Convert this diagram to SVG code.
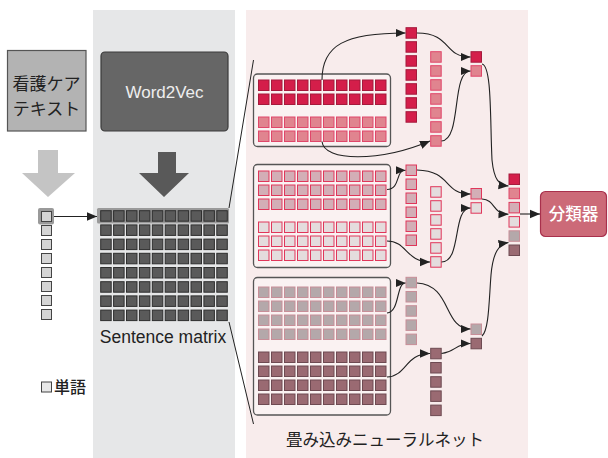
<svg xmlns="http://www.w3.org/2000/svg" xmlns:xlink="http://www.w3.org/1999/xlink" width="608" height="458" viewBox="0 0 608 458">
<style>
.jp{font-family:"Liberation Sans","Noto Sans CJK JP",sans-serif;}
.lat{font-family:"Liberation Sans",Arial,sans-serif;}
.cr{fill:#d41e4a;stroke:#a51a3c;stroke-width:1}
.lp{fill:#e0848f;stroke:#e0466a;stroke-width:1}
.dp{fill:#d3aeb6;stroke:#e0365a;stroke-width:1}
.lt{fill:#e4dcdd;stroke:#e0365a;stroke-width:1}
.gy{fill:#b4a8aa;stroke:#c88e98;stroke-width:1}
.mv{fill:#9a6a72;stroke:#6e4a52;stroke-width:1}
.mx{fill:#5a5a5a;stroke:#2e2e2e;stroke-width:1}
.wd{fill:#d4d4d4;stroke:#444;stroke-width:1}
.box{fill:#faf2f2;stroke:#555;stroke-width:1.3}
.con{fill:none;stroke:#222;stroke-width:1.1}
.ln{fill:none;stroke:#222;stroke-width:1}
</style>
<defs>
<marker id="ah" markerUnits="userSpaceOnUse" markerWidth="10" markerHeight="10" viewBox="0 0 10 10" refX="10" refY="5" orient="auto">
<path d="M0,0.8 L10,5 L0,9.2 Z" fill="#222"/>
</marker>
<g id="row10">
<rect x="0" y="0" width="10.5" height="10.5"/><rect x="13" y="0" width="10.5" height="10.5"/><rect x="26" y="0" width="10.5" height="10.5"/><rect x="39" y="0" width="10.5" height="10.5"/><rect x="52" y="0" width="10.5" height="10.5"/><rect x="65" y="0" width="10.5" height="10.5"/><rect x="78" y="0" width="10.5" height="10.5"/><rect x="91" y="0" width="10.5" height="10.5"/><rect x="104" y="0" width="10.5" height="10.5"/><rect x="117" y="0" width="10.5" height="10.5"/>
</g>
<g id="rowM">
<rect x="0" y="0" width="10.5" height="10.5"/><rect x="12.9" y="0" width="10.5" height="10.5"/><rect x="25.8" y="0" width="10.5" height="10.5"/><rect x="38.7" y="0" width="10.5" height="10.5"/><rect x="51.6" y="0" width="10.5" height="10.5"/><rect x="64.5" y="0" width="10.5" height="10.5"/><rect x="77.4" y="0" width="10.5" height="10.5"/><rect x="90.3" y="0" width="10.5" height="10.5"/><rect x="103.2" y="0" width="10.5" height="10.5"/><rect x="116.1" y="0" width="10.5" height="10.5"/>
</g>
</defs>

<rect width="608" height="458" fill="#ffffff"/>
<rect id="panel-w2v" x="93" y="10" width="142" height="448" fill="#e6e7e8"/>
<rect id="panel-cnn" x="246" y="10" width="282" height="448" fill="#f8ecec"/>

<g id="text-box">
<rect x="7.5" y="50.5" width="78.5" height="80.5" fill="#b3b3b3" stroke="#555" stroke-width="1.2"/>
<text class="jp" x="46.5" y="90" font-size="17" text-anchor="middle" fill="#222">看護ケア</text>
<text class="jp" x="46.5" y="115" font-size="17" text-anchor="middle" fill="#222">テキスト</text>
</g>
<g id="arrow-light">
<path d="M38,150 H58 V173 H75 L48,197 L22,173 H38 Z" fill="#c4c4c4"/>
</g>

<g id="words">
<rect x="38" y="208" width="16" height="16.5" rx="2" fill="#9a9a9a"/>
<rect class="wd" x="41.5" y="211.5" width="10" height="10"/>
<rect class="wd" x="41.5" y="225.5" width="10" height="10"/>
<rect class="wd" x="41.5" y="239.5" width="10" height="10"/>
<rect class="wd" x="41.5" y="253.5" width="10" height="10"/>
<rect class="wd" x="41.5" y="267.5" width="10" height="10"/>
<rect class="wd" x="41.5" y="281.5" width="10" height="10"/>
<rect class="wd" x="41.5" y="295.5" width="10" height="10"/>
<rect class="wd" x="41.5" y="309.5" width="10" height="10"/>
</g>

<g id="legend">
<rect class="wd" x="41.5" y="382" width="10" height="10" style="fill:#e8e8e8"/>
<text class="jp" x="54" y="393" font-size="16" font-weight="500" fill="#222">単語</text>
</g>

<g id="word2vec">
<rect x="101" y="52" width="127" height="79" rx="4" fill="#666" stroke="#3a3a3a" stroke-width="1.2"/>
<text class="lat" x="164.5" y="98" font-size="17" text-anchor="middle" fill="#eeeeee">Word2Vec</text>
</g>
<g id="arrow-dark">
<path d="M158,152 H176 V173 H189 L164,197 L139,173 H158 Z" fill="#595959"/>
</g>

<g id="sentence-matrix">
<rect x="97" y="208" width="132" height="15.5" rx="1.5" fill="#9a9a9a"/>
<use href="#rowM" class="mx" x="100.7" y="210.7"/>
<use href="#rowM" class="mx" x="100.7" y="224.9"/>
<use href="#rowM" class="mx" x="100.7" y="239.1"/>
<use href="#rowM" class="mx" x="100.7" y="253.3"/>
<use href="#rowM" class="mx" x="100.7" y="267.5"/>
<use href="#rowM" class="mx" x="100.7" y="281.7"/>
<use href="#rowM" class="mx" x="100.7" y="295.9"/>
<use href="#rowM" class="mx" x="100.7" y="310.1"/>
<text class="lat" x="163" y="343" font-size="17.5" text-anchor="middle" fill="#222">Sentence matrix</text>
</g>

<g id="conv1">
<rect class="box" x="253.5" y="74" width="137" height="72.5" rx="4"/>
<use href="#row10" class="cr" x="258.5" y="80"/>
<use href="#row10" class="cr" x="258.5" y="94"/>
<use href="#row10" class="lp" x="258.5" y="117"/>
<use href="#row10" class="lp" x="258.5" y="131"/>
</g>
<g id="conv2">
<rect class="box" x="253.5" y="164.5" width="137" height="103" rx="4"/>
<use href="#row10" class="dp" x="258.5" y="171"/>
<use href="#row10" class="dp" x="258.5" y="185"/>
<use href="#row10" class="dp" x="258.5" y="199"/>
<use href="#row10" class="lt" x="258.5" y="222"/>
<use href="#row10" class="lt" x="258.5" y="236"/>
<use href="#row10" class="lt" x="258.5" y="250"/>
</g>
<g id="conv3">
<rect class="box" x="253.5" y="277.5" width="137" height="137.5" rx="4"/>
<use href="#row10" class="gy" x="258.5" y="287"/>
<use href="#row10" class="gy" x="258.5" y="301"/>
<use href="#row10" class="gy" x="258.5" y="315"/>
<use href="#row10" class="gy" x="258.5" y="329"/>
<use href="#row10" class="mv" x="258.5" y="352"/>
<use href="#row10" class="mv" x="258.5" y="366"/>
<use href="#row10" class="mv" x="258.5" y="380"/>
<use href="#row10" class="mv" x="258.5" y="394"/>
</g>

<g id="map-a">
<rect class="cr" x="406" y="27.7" width="10.5" height="10.5"/>
<rect class="cr" x="406" y="41.7" width="10.5" height="10.5"/>
<rect class="cr" x="406" y="55.7" width="10.5" height="10.5"/>
<rect class="cr" x="406" y="69.7" width="10.5" height="10.5"/>
<rect class="cr" x="406" y="83.7" width="10.5" height="10.5"/>
<rect class="cr" x="406" y="97.7" width="10.5" height="10.5"/>
<rect class="cr" x="406" y="111.7" width="10.5" height="10.5"/>
</g>
<g id="map-b">
<rect class="lp" x="430.7" y="51.7" width="10.5" height="10.5"/>
<rect class="lp" x="430.7" y="65.7" width="10.5" height="10.5"/>
<rect class="lp" x="430.7" y="79.7" width="10.5" height="10.5"/>
<rect class="lp" x="430.7" y="93.7" width="10.5" height="10.5"/>
<rect class="lp" x="430.7" y="107.7" width="10.5" height="10.5"/>
<rect class="lp" x="430.7" y="121.7" width="10.5" height="10.5"/>
<rect class="lp" x="430.7" y="135.7" width="10.5" height="10.5"/>
</g>
<g id="pool-1">
<rect class="cr" x="471" y="51.7" width="10.5" height="10.5"/>
<rect class="lp" x="471" y="65.7" width="10.5" height="10.5"/>
</g>
<g id="map-c">
<rect class="dp" x="406" y="165" width="10.5" height="10.5"/>
<rect class="dp" x="406" y="179" width="10.5" height="10.5"/>
<rect class="dp" x="406" y="193" width="10.5" height="10.5"/>
<rect class="dp" x="406" y="207" width="10.5" height="10.5"/>
<rect class="dp" x="406" y="221" width="10.5" height="10.5"/>
<rect class="dp" x="406" y="235" width="10.5" height="10.5"/>
</g>
<g id="map-d">
<rect class="lt" x="430.7" y="186.7" width="10.5" height="10.5"/>
<rect class="lt" x="430.7" y="200.7" width="10.5" height="10.5"/>
<rect class="lt" x="430.7" y="214.7" width="10.5" height="10.5"/>
<rect class="lt" x="430.7" y="228.7" width="10.5" height="10.5"/>
<rect class="lt" x="430.7" y="242.7" width="10.5" height="10.5"/>
<rect class="lt" x="430.7" y="256.7" width="10.5" height="10.5"/>
</g>
<g id="pool-2">
<rect class="dp" x="471" y="188.5" width="10.5" height="10.5"/>
<rect class="lt" x="471" y="202.7" width="10.5" height="10.5"/>
</g>
<g id="map-e">
<rect class="gy" x="406" y="277.3" width="10.5" height="10.5"/>
<rect class="gy" x="406" y="291.5" width="10.5" height="10.5"/>
<rect class="gy" x="406" y="305.7" width="10.5" height="10.5"/>
<rect class="gy" x="406" y="319.9" width="10.5" height="10.5"/>
<rect class="gy" x="406" y="334.1" width="10.5" height="10.5"/>
</g>
<g id="map-f">
<rect class="mv" x="430.7" y="348.3" width="10.5" height="10.5"/>
<rect class="mv" x="430.7" y="362.5" width="10.5" height="10.5"/>
<rect class="mv" x="430.7" y="376.7" width="10.5" height="10.5"/>
<rect class="mv" x="430.7" y="390.9" width="10.5" height="10.5"/>
<rect class="mv" x="430.7" y="405.1" width="10.5" height="10.5"/>
</g>
<g id="pool-3">
<rect class="gy" x="471" y="324" width="10.5" height="10.5"/>
<rect class="mv" x="471" y="338.3" width="10.5" height="10.5"/>
</g>

<g id="concat">
<rect class="cr" x="509" y="174" width="10.5" height="10.5"/>
<rect class="lp" x="509" y="188.2" width="10.5" height="10.5"/>
<rect class="dp" x="509" y="202.4" width="10.5" height="10.5"/>
<rect class="lt" x="509" y="216.6" width="10.5" height="10.5"/>
<rect class="gy" x="509" y="230.8" width="10.5" height="10.5"/>
<rect class="mv" x="509" y="245" width="10.5" height="10.5"/>
</g>

<g id="classifier">
<rect x="540.5" y="191.5" width="66" height="45" rx="5" fill="#cc6a78" stroke="#a8304c" stroke-width="1.2"/>
<text class="jp" x="573.5" y="220" font-size="16.5" font-weight="500" text-anchor="middle" fill="#ffffff">分類器</text>
</g>

<text id="cnn-label" class="jp" x="385" y="446" font-size="16.5" text-anchor="middle" fill="#222">畳み込みニューラルネット</text>

<g id="connectors">
<path class="con" d="M54,216.5 H97" marker-end="url(#ah)"/>
<path class="ln" d="M229,208 L253.5,60"/>
<path class="ln" d="M229,322 L253.5,424"/>
<path class="con" d="M322,80 C322,45 345,33 405.5,33" marker-end="url(#ah)"/>
<path class="con" d="M322,141.5 C324,162 380,162 430,141" marker-end="url(#ah)"/>
<path class="con" d="M417,33 C452,33 443,57 470.5,57" marker-end="url(#ah)"/>
<path class="con" d="M441.5,141 C462,140 451,71 470.5,71" marker-end="url(#ah)"/>
<path class="con" d="M387,189.5 C401,189 395,170.2 405.5,170.2" marker-end="url(#ah)"/>
<path class="con" d="M387,241 C407,241 406,262 430,262" marker-end="url(#ah)"/>
<path class="con" d="M417,170 C452,171 443,194 470.5,194" marker-end="url(#ah)"/>
<path class="con" d="M441.5,262 C462,262 452,208 470.5,208" marker-end="url(#ah)"/>
<path class="con" d="M387,313 C400,312 396,283 405.5,283" marker-end="url(#ah)"/>
<path class="con" d="M387,377 C407,376 405,353.5 430,353.5" marker-end="url(#ah)"/>
<path class="con" d="M417,283 C452,285 443,329 470.5,329" marker-end="url(#ah)"/>
<path class="con" d="M441.5,353.5 C456,352 455,343.5 470.5,343.5" marker-end="url(#ah)"/>
<path class="con" d="M482,64 C492,66 490,120 492,160 C494,180 499,185 508.5,186" marker-end="url(#ah)"/>
<path class="con" d="M482,199 C496,200 492,214 508.5,214.3" marker-end="url(#ah)"/>
<path class="con" d="M482,336 C489,330 489,300 491,275 C493,252 499,244 508.5,242.5" marker-end="url(#ah)"/>
<path class="con" d="M520,214 H540" marker-end="url(#ah)"/>
</g>
</svg>
